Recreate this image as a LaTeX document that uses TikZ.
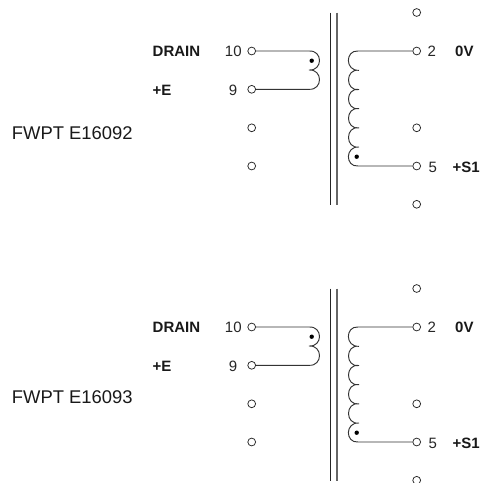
\documentclass[tikz,border=0pt]{standalone}
\usepackage{fontspec}
\setmainfont{Liberation Sans}
\tikzset{
  x=1pt,y=-1pt,
  term/.style={circle,draw=black!85,line width=.75pt,fill=white,minimum size=7.8pt,inner sep=0pt},
  wire/.style={draw=black!80,line width=.95pt},
  core/.style={draw=black!85,line width=.9pt},
  coreb/.style={draw=black!60,line width=1.2pt},
  pin/.style={font=\fontsize{15}{17}\selectfont,text=black!85,inner sep=0pt},
  sig/.style={font=\fontsize{15}{17}\bfseries\selectfont,inner sep=0pt,text=black!90},
  ttl/.style={font=\fontsize{18.4}{20}\selectfont,anchor=west,inner sep=0pt,text=black!90},
  dotm/.style={circle,fill=black,minimum size=4.4pt,inner sep=0pt},
  xfmr/.pic={
    \node[term] (l1) at (251.7,51) {};
    \node[term] (l2) at (251.7,89.3) {};
    \node[term] (l3) at (251.7,127.8) {};
    \node[term] (l4) at (251.7,166) {};
    \node[term] (r0) at (416.7,12.5) {};
    \node[term] (r1) at (416.7,51) {};
    \node[term] (r3) at (416.7,127.8) {};
    \node[term] (r2) at (416.7,166) {};
    \node[term] (r4) at (416.7,204.3) {};
    \coordinate (c1a) at (330.3,12.5);
    \coordinate (c1b) at (330.3,204.5);
    \coordinate (c2a) at (337,12.5);
    \coordinate (c2b) at (337,204.5);
    \draw[core] (c1a) -- (c1b);
    \draw[coreb] (c2a) -- (c2b);
    \coordinate (pa) at (309,51);
    \coordinate (pb) at (309,70);
    \coordinate (pc) at (309,89.3);
    \draw[wire] (l1) -- (pa) .. controls (323,50) and (323,71) .. (pb)
      .. controls (323,69) and (323,90.3) .. (pc) -- (l2);
    \coordinate (s0) at (358,51);
    \coordinate (s1) at (359,70.3);
    \coordinate (s2) at (359,89.5);
    \coordinate (s3) at (359,108.6);
    \coordinate (s4) at (359,127.8);
    \coordinate (s5) at (359,147);
    \coordinate (s6) at (358,166);
    \draw[wire] (r1) -- (s0)
      .. controls (345,50) and (345,71.3) .. (s1)
      .. controls (345,68.3) and (345,91.5) .. (s2)
      .. controls (345,87.5) and (345,110.6) .. (s3)
      .. controls (345,106.6) and (345,129.8) .. (s4)
      .. controls (345,125.8) and (345,149) .. (s5)
      .. controls (345,146) and (345,167) .. (s6) -- (r2);
    \node[dotm] (d1) at (311.7,60.7) {};
    \node[dotm] (d2) at (356.7,156.7) {};
    \node[sig,anchor=base west] (sd) at (152.5,56.5) {DRAIN};
    \node[sig,anchor=base west] (se) at (152.5,95) {+E};
    \node[pin,anchor=base east] (p10) at (241.8,56.5) {10};
    \node[pin,anchor=base east] (p9) at (237.5,95) {9};
    \node[pin,anchor=base west] (p2) at (427.5,56) {2};
    \node[pin,anchor=base west] (p5) at (428.5,172) {5};
    \node[sig,anchor=base west] (s0v) at (455,56.5) {0V};
    \node[sig,anchor=base west] (ss1) at (452.5,172.5) {+S1};
  }
}
\begin{document}
\begin{tikzpicture}
\useasboundingbox (0,0) rectangle (480,483);
\clip (0,0) rectangle (480,483);
\fill[white] (0,0) rectangle (480,483);
\pic (a) at (0,0) {xfmr};
\pic (b) at (0,276) {xfmr};
\node[ttl] (ta) at (11.7,133.3) {FWPT E16092};
\node[ttl] (tb) at (11.7,397.3) {FWPT E16093};
\end{tikzpicture}
\end{document}
